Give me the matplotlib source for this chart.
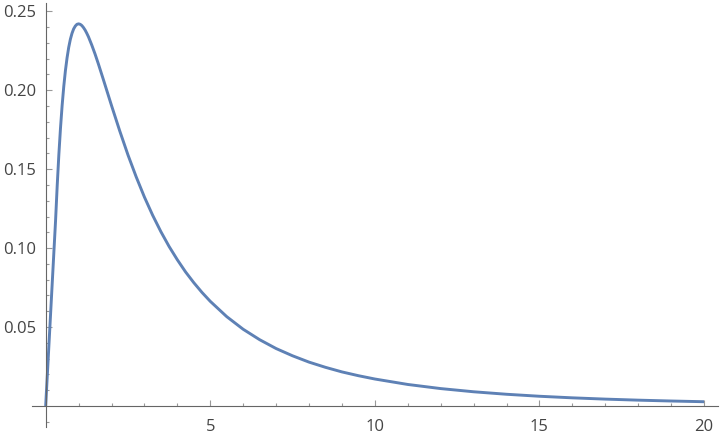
import matplotlib

matplotlib.use('Agg')
import matplotlib.pyplot as plt

# values
x_vals = [0, 0.3, 0.35, 0.4, 0.45, 0.5, 0.55, 0.6, 0.65, 0.7, 0.75, 0.8, 0.85,
          0.9, 0.95, 1.0, 1.05, 1.1, 1.15, 1.2, 1.25, 1.3, 1.4, 1.5, 1.6, 1.75,
          2.0, 2.25, 2.5, 2.75, 3.0, 3.25, 3.5, 3.75, 4.0, 4.25, 4.5, 4.75, 5,
          5.5, 6, 6.5, 7, 7.5, 8, 8.5, 9, 9.5, 10, 11, 12, 13, 14, 15, 16, 17,
          18, 19, 20]
y_vals = [0, 0.1172, 0.1394, 0.1590, 0.1759, 0.1903, 0.2024, 0.2124, 0.2205,
          0.2271, 0.2322, 0.2360, 0.2388, 0.2406, 0.2417, 0.2420, 0.2417, 0.2409,
          0.2396, 0.2380, 0.2360, 0.2338, 0.2286, 0.2229, 0.2167, 0.2069, 0.1903,
          0.1742, 0.1590, 0.1451, 0.1323, 0.1208, 0.1104, 0.1010, 0.0926, 0.0849,
          0.0781, 0.0719, 0.0663, 0.0566, 0.0486, 0.0420, 0.0364, 0.0318, 0.0278,
          0.0245, 0.0216, 0.0192, 0.0171, 0.01365, 0.01104, 0.00902, 0.00744,
          0.00618, 0.00518, 0.00437, 0.00371, 0.00317, 0.00272]

x_major = [5, 10, 15, 20]
x_minor = [v for v in range(1, 21) if v % 5]
y_major = [0.05, 0.10, 0.15, 0.20, 0.25]
y_minor = [-0.01] + [i / 100 for i in range(1, 26) if i % 5]

LINE_COLOR = '#5e81b5'
AXIS_COLOR = '#666666'
TICK_COLOR = '#999999'
LABEL_COLOR = '#444444'

plt.rcParams['font.family'] = ['Open Sans', 'DejaVu Sans']

fig = plt.figure(figsize=(7.2, 4.36), dpi=100)
ax = fig.add_axes([0.044, 0.0206, 0.953, 0.9718])

ax.plot(x_vals, y_vals, color=LINE_COLOR, lw=2.1, solid_joinstyle='round',
        solid_capstyle='butt', clip_on=False)

ax.set_xlim(-0.425, 20.42)
ax.set_ylim(-0.0133, 0.255)

for side in ['top', 'right']:
    ax.spines[side].set_visible(False)
for side in ['left', 'bottom']:
    ax.spines[side].set_position(('data', 0))
    ax.spines[side].set_color(AXIS_COLOR)
    ax.spines[side].set_linewidth(0.8)

ax.set_xticks(x_major)
ax.set_xticklabels([str(v) for v in x_major])
ax.set_xticks(x_minor, minor=True)
ax.set_yticks(y_major)
ax.set_yticklabels([f'{v:.2f}' for v in y_major])
ax.set_yticks(y_minor, minor=True)

ax.tick_params(which='both', direction='in', color=TICK_COLOR, width=0.8,
               labelcolor=LABEL_COLOR, labelsize=12)
ax.tick_params(which='major', length=4.5)
ax.tick_params(which='minor', length=2.5)
ax.tick_params(axis='x', which='major', pad=9)
ax.tick_params(axis='y', which='major', pad=7)

fig.savefig('out.png', dpi=100)
